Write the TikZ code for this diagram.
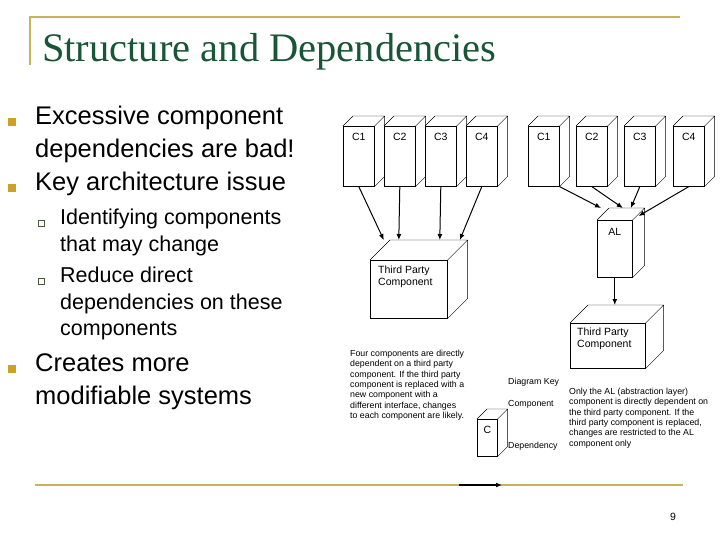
\documentclass[tikz,border=0pt]{standalone}
\usetikzlibrary{arrows.meta}
\usepackage{fontspec}
\setmainfont{Liberation Sans}
\newfontfamily\ttl{Liberation Serif}
\definecolor{gold}{RGB}{200,178,90}
\definecolor{bul}{RGB}{205,160,40}
\definecolor{ttlg}{RGB}{25,85,55}
\definecolor{sub}{RGB}{70,90,60}
\newcommand\cubedepth[2]{\draw (#1.north west) -- ++(#2,-#2) -- ([shift={(#2pt,#2pt)}]#1.north east) -- ([shift={(#2pt,#2pt)}]#1.south east) -- (#1.south east) (#1.north east) -- ++(#2,-#2);}
\begin{document}
\begin{tikzpicture}[x=1pt,y=-1pt,
  box/.style={draw,anchor=north west,inner sep=0,line width=0.6pt},
  lbl/.style={font=\fontsize{10.5}{12}\selectfont,align=center},
  sm/.style={font=\fontsize{8.8}{10.3}\selectfont,align=left,anchor=north west,inner sep=0},
  big/.style={font=\fontsize{25.5}{33}\selectfont,align=left,anchor=north west,inner sep=0},
  mid/.style={font=\fontsize{21.5}{26.5}\selectfont,align=left,anchor=north west,inner sep=0},
  dep/.style={-{Latex[length=6pt,width=5pt]},line width=1pt},
  sq/.style={fill=bul,minimum size=8pt,inner sep=0},
  hsq/.style={draw=sub,line width=0.8pt,minimum size=6pt,inner sep=0}]
\useasboundingbox (0,0) rectangle (720,540);
% frame
\draw[gold,line width=2pt] (30,65) -- (30,17) -- (680,17);
\draw[gold,line width=2pt] (35,485) -- (683,485);
\node[anchor=base west,inner sep=0,text=ttlg,font=\ttl\fontsize{40.5}{44}\selectfont] (title) at (42,62) {Structure and Dependencies};
% bullets
\node[sq] (b1) at (12,122) {};
\node[big] (t1) at (35,106) {Excessive component\\dependencies are bad!};
\node[sq] (b2) at (12,188) {};
\node[big] (t2) at (35,172) {Key architecture issue};
\node[hsq] (s1) at (41,223) {};
\node[mid] (u1) at (60,209) {Identifying components\\that may change};
\node[hsq] (s2) at (41,281) {};
\node[mid] (u2) at (60,267) {Reduce direct\\dependencies on these\\components};
\node[sq] (b3) at (12,369) {};
\node[big] (t3) at (35,353) {Creates more\\modifiable systems};
% left group
\foreach \n/\x in {1/343,2/384,3/425,4/466}{
  \node[box,minimum width=31pt,minimum height=60pt] (l\n) at (\x,126) {};
  \cubedepth{l\n}{10}
  \node[lbl] (l\n t) at ([yshift=-11pt]l\n.north) {C\n};
}
\node[box,minimum width=77pt,minimum height=58pt] (ltp) at (370,260) {};
\cubedepth{ltp}{20}
\node[lbl,anchor=north west,align=left,inner sep=0] (ltpt) at (378,266) {Third Party\\Component};
\draw[dep] (l1.south) -- ([xshift=-25pt,yshift=20pt]ltp.north);
\draw[dep] (l2.south) -- ([xshift=-10pt,yshift=20pt]ltp.north);
\draw[dep] (l3.south) -- ([xshift=31pt,yshift=20pt]ltp.north);
\draw[dep] (l4.south) -- ([xshift=51pt,yshift=20pt]ltp.north);
% right group
\foreach \n/\x in {1/528,2/576,3/624,4/673}{
  \node[box,minimum width=31pt,minimum height=60pt] (r\n) at (\x,126) {};
  \cubedepth{r\n}{10}
  \node[lbl] (r\n t) at ([yshift=-11pt]r\n.north) {C\n};
}
\node[box,minimum width=35pt,minimum height=57pt] (al) at (597,220) {};
\cubedepth{al}{12}
\node[lbl] (alt) at ([yshift=-12pt]al.north) {AL};
\node[box,minimum width=75pt,minimum height=45pt] (rtp) at (570,323) {};
\cubedepth{rtp}{18}
\node[lbl,anchor=north west,align=left,inner sep=0] (rtpt) at (577,328) {Third Party\\Component};
\draw[dep] (r1.south east) -- ([xshift=4pt,yshift=12pt]al.north west);
\draw[dep] (r2.south) -- ([xshift=8pt,yshift=12pt]al.north);
\draw[dep] (r3.south) -- ([xshift=16pt,yshift=12pt]al.north);
\draw[dep] (r4.south) -- ([xshift=6pt,yshift=4pt]al.north east);
\draw[dep] (al.south) -- ([xshift=7pt,yshift=18pt]rtp.north);
% texts
\node[sm] (lt) at (350,350) {Four components are directly\\dependent on a third party\\component. If the third party\\component is replaced with a\\new component with a\\different interface, changes\\to each component are likely.};
\node[sm] (rt) at (569,388) {Only the AL (abstraction layer)\\component is directly dependent on\\the third party component. If the\\third party component is replaced,\\changes are restricted to the AL\\component only};
% key
\node[box,minimum width=20pt,minimum height=37pt] (kc) at (477,419) {};
\cubedepth{kc}{10}
\node[lbl] (kct) at ([yshift=-11pt]kc.north) {C};
\node[sm] (dk) at (508,378) {Diagram Key};
\node[sm] (kcomp) at (508,400) {Component};
\node[sm] (kdep) at (508,442) {Dependency};
\coordinate (ka) at (459,485);
\coordinate (kb) at (502,485);
\draw[dep,line width=1.5pt] (ka) -- (kb);
\node[lbl] (pg) at (673,517) {9};
\end{tikzpicture}
\end{document}
